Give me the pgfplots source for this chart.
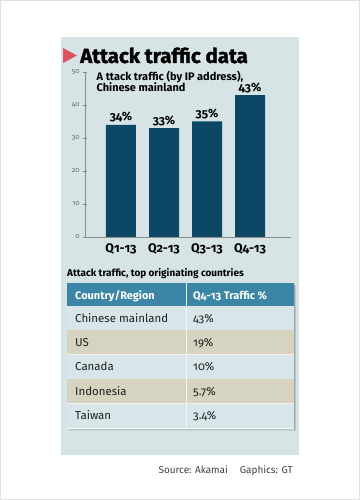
\documentclass[border=0pt]{standalone}
\usepackage{fontspec}
\setmainfont{Fira Sans}[Numbers=OldStyle]
\newfontfamily\heavyfont{Fira Sans}[Numbers=OldStyle, FakeBold=1.6]
\usepackage{pgfplots}
\pgfplotsset{compat=1.18}
\definecolor{panel}{HTML}{D6E4E6}
\definecolor{tri}{HTML}{D9545C}
\definecolor{barc}{HTML}{0C4865}
\definecolor{hdr}{HTML}{3B86A7}
\definecolor{rowa}{HTML}{D8E6EA}
\definecolor{rowb}{HTML}{D6D4C0}
\definecolor{txt}{HTML}{1E1E1E}
\begin{document}
\begin{tikzpicture}[x=1bp,y=1bp]
\fill[white] (0,0) rectangle (360,500);
\draw[black!12, line width=0.8bp] (0.4,0.4) rectangle (359.6,499.6);
\fill[panel] (61,45) rectangle (299,463);
% title
\fill[tri] (63,452) -- (77,444.5) -- (63,437) -- cycle;
\node[anchor=base west, inner sep=0, text=black, font=\heavyfont\bfseries\fontsize{20.5}{22}\selectfont] at (80,437) {Attack traffic data};
% chart
\begin{axis}[
  at={(85bp,263bp)}, anchor=south west,
  scale only axis, width=206bp, height=165bp,
  xmin=-0.837, xmax=3.953, ymin=0, ymax=50,
  axis x line*=bottom, axis y line*=left,
  axis line style={black!45, line width=0.6bp},
  ytick={0,10,20,30,40,50},
  ytick style={black!45, line width=0.5bp},
  major tick length=4bp, tick align=center,
  yticklabel style={font=\fontsize{7}{8}\selectfont, text=black!60},
  xtick=data, xticklabels={Q1-13,Q2-13,Q3-13,Q4-13},
  xtick style={draw=none},
  xticklabel style={font=\bfseries\fontsize{12.5}{13}\selectfont, text=black, yshift=-1bp},
  /pgf/number format/assume math mode=true,
  clip=false,
]
\addplot[ybar, bar width=30bp, fill=barc, draw=none,
  nodes near coords={\pgfmathprintnumber{\pgfplotspointmeta}\%},
  every node near coord/.append style={font=\bfseries\fontsize{12}{13}\selectfont, text=black, yshift=-1bp},
] coordinates {(0,34) (1,33) (2,35) (3,43)};
\end{axis}
% subtitle
\node[anchor=base west, inner sep=0, text=black, font=\fontsize{11}{12}\selectfont\bfseries] at (96.5,419) {A ttack traffic (by IP address),};
\node[anchor=base west, inner sep=0, text=black, font=\fontsize{11}{12}\selectfont\bfseries] at (96.5,408) {Chinese mainland};
% table heading
\node[anchor=base west, inner sep=0, text=black, font=\fontsize{10}{11}\selectfont\bfseries] at (67,223) {Attack traffic, top originating countries};
% shadow
\foreach \i in {1,...,4} {
  \fill[black, opacity=0.07] (67+0.4*\i,72-0.7*\i) rectangle (294+0.5*\i,217-0.7*\i);
}
% header
\fill[hdr] (67,194) rectangle (294,217);
\node[anchor=base west, inner sep=0, text=white, font=\fontsize{11}{12}\selectfont\bfseries] at (75,200) {Country/Region};
\node[anchor=base west, inner sep=0, text=white, font=\fontsize{11}{12}\selectfont\bfseries] at (193,200) {Q4-13 Traffic \%};
% rows
\foreach \n/\c/\v [count=\k from 0] in {Chinese mainland/rowa/43\%, US/rowb/19\%, Canada/rowa/10\%, Indonesia/rowb/5.7\%, Taiwan/rowa/3.4\%} {
  \pgfmathsetmacro{\top}{194-24.4*\k}
  \pgfmathsetmacro{\bot}{194-24.4*(\k+1)}
  \pgfmathsetmacro{\base}{\top-16.2}
  \fill[\c] (67,\bot) rectangle (294,\top);
  \draw[white!70!\c, line width=0.6bp] (67,\bot) -- (294,\bot);
  \node[anchor=base west, inner sep=0, text=txt, font=\fontsize{11.5}{12}\selectfont] at (75,\base) {\n};
  \node[anchor=base west, inner sep=0, text=txt, font=\fontsize{11.5}{12}\selectfont] at (193,\base) {\v};
}
\draw[white!60!rowa, line width=0.6bp] (186,72) -- (186,217);
% source
\node[anchor=base east, inner sep=0, text=black!75, font=\fontsize{10}{11}\selectfont] at (293,26) {Source: Akamai\hspace{12bp}Gaphics: GT};
\end{tikzpicture}
\end{document}
